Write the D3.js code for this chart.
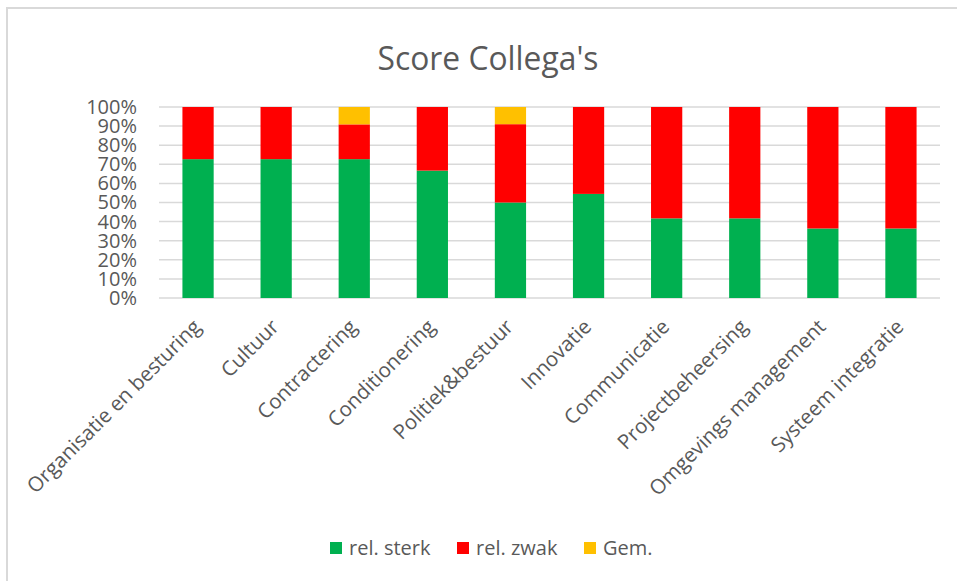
<!DOCTYPE html>
<html>
<head>
<meta charset="utf-8">
<script src="https://cdn.jsdelivr.net/npm/d3@7"></script>
<style>
  body { margin: 0; background: #fff; }
  text { font-family: "Open Sans", sans-serif; fill: #595959; }
</style>
</head>
<body>
<div id="chart"></div>
<script>
const WIDTH = 957;
const HEIGHT = 581;

// Data (percentages per category)
const categories = ['Organisatie en besturing', 'Cultuur', 'Contractering', 'Conditionering',
  'Politiek&bestuur', 'Innovatie', 'Communicatie', 'Projectbeheersing',
  'Omgevings management', 'Systeem integratie'];
const relSterk = [72.7, 72.7, 72.7, 66.7, 50, 54.5, 41.7, 41.7, 36.4, 36.4];
const relZwak = [27.3, 27.3, 18.2, 33.3, 41, 45.5, 58.3, 58.3, 63.6, 63.6];
const gem = [0, 0, 9.1, 0, 9, 0, 0, 0, 0, 0];
const seriesNames = ['rel. sterk', 'rel. zwak', 'Gem.'];
const colors = ['#00B050', '#FF0000', '#FFC000'];
const yTicks = [0, 10, 20, 30, 40, 50, 60, 70, 80, 90, 100];

const PLOT = { left: 159, right: 940, top: 107, bottom: 298 };

const rows = categories.map((c, i) => ({ cat: c, 'rel. sterk': relSterk[i], 'rel. zwak': relZwak[i], 'Gem.': gem[i] }));

const svg = d3.select('#chart').append('svg')
  .attr('width', WIDTH)
  .attr('height', HEIGHT);

// outer frame of the chart area
svg.append('rect')
  .attr('x', 7).attr('y', 8)
  .attr('width', WIDTH + 10).attr('height', HEIGHT + 10)
  .attr('fill', 'none')
  .attr('stroke', '#d9d9d9')
  .attr('stroke-width', 2);

const xScale = d3.scaleBand()
  .domain(categories)
  .range([PLOT.left, PLOT.right])
  .paddingInner(0.6)
  .paddingOuter(0.3);

const yScale = d3.scaleLinear()
  .domain([0, 100])
  .range([PLOT.bottom, PLOT.top]);

// title
svg.append('text')
  .attr('x', 488)
  .attr('y', 70)
  .attr('text-anchor', 'middle')
  .attr('font-size', 32)
  .attr('textLength', 221)
  .attr('lengthAdjust', 'spacingAndGlyphs')
  .text("Score Collega's");

// gridlines
svg.append('g')
  .selectAll('line')
  .data(yTicks)
  .enter()
  .append('line')
  .attr('x1', PLOT.left)
  .attr('x2', PLOT.right)
  .attr('y1', d => yScale(d))
  .attr('y2', d => yScale(d))
  .attr('stroke', '#d9d9d9')
  .attr('stroke-width', 1.5);

// y axis labels
const yAxis = d3.axisLeft(yScale)
  .tickValues(yTicks)
  .tickFormat(d => d + '%')
  .tickSize(0)
  .tickPadding(0);
const yG = svg.append('g')
  .attr('transform', 'translate(137, 0)')
  .call(yAxis);
yG.select('.domain').remove();
yG.selectAll('text')
  .attr('font-size', 20)
  .attr('font-family', '"Open Sans", sans-serif')
  .attr('fill', '#595959');

// stacked bars
const stack = d3.stack().keys(seriesNames);
const layers = stack(rows);

svg.append('g')
  .selectAll('g')
  .data(layers)
  .enter()
  .append('g')
  .attr('fill', (d, i) => colors[i])
  .selectAll('rect')
  .data(d => d)
  .enter()
  .append('rect')
  .attr('x', d => xScale(d.data.cat))
  .attr('y', d => yScale(d[1]))
  .attr('width', xScale.bandwidth())
  .attr('height', d => yScale(d[0]) - yScale(d[1]));

// x axis labels, rotated
const xAxis = d3.axisBottom(xScale).tickSize(0).tickPadding(0);
const xG = svg.append('g')
  .attr('transform', 'translate(0, ' + PLOT.bottom + ')')
  .call(xAxis);
xG.select('.domain').remove();
xG.selectAll('text')
  .attr('font-size', 20.5)
  .attr('font-family', '"Open Sans", sans-serif')
  .attr('fill', '#595959')
  .attr('text-anchor', 'end')
  .attr('dy', 0)
  .attr('transform', 'translate(4, 30) rotate(-45)');

// legend
const legendX = [330, 457, 584];
const legend = svg.append('g')
  .selectAll('g')
  .data(seriesNames)
  .enter()
  .append('g')
  .attr('transform', (d, i) => 'translate(' + legendX[i] + ', 542)');
legend.append('rect')
  .attr('width', 12)
  .attr('height', 12)
  .attr('fill', (d, i) => colors[i]);
legend.append('text')
  .attr('x', 19)
  .attr('y', 13)
  .attr('font-size', 20)
  .text(d => d);
</script>
</body>
</html>
